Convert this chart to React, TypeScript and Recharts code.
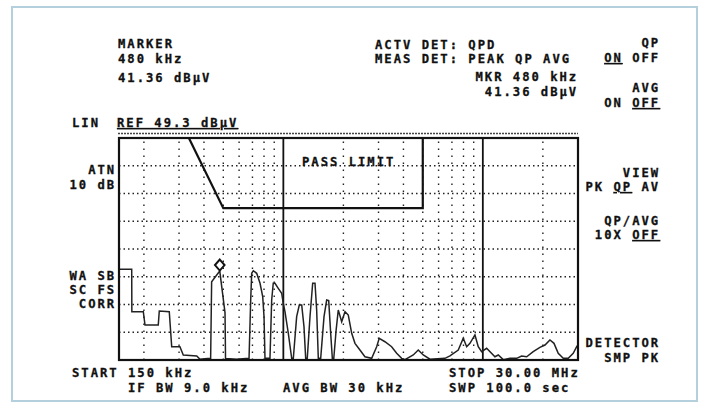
import { LineChart, Line, XAxis, YAxis, ReferenceLine, ReferenceDot } from "recharts";

// sweep 150 kHz .. 30 MHz, linear amplitude, REF 49.3 dBµV = 291.7 µV
const START_KHZ = 150;
const STOP_KHZ = 30000;
const REF_UV = 291.7;
const Y_DIVS = 8;

const MINOR_KHZ = [200, 300, 400, 500, 600, 700, 800, 900, 2000, 3000, 4000, 5000, 6000, 7000, 8000, 9000, 20000];
const MAJOR_KHZ = [1000, 10000];

const TRACE_KHZ = [
  150, 173.7, 174, 198.6, 202.5, 236, 238.8, 268, 275.6, 303, 315, 368, 382, 429, 432, 437, 480, 510, 513, 583,
  673, 686, 694, 707, 735, 764, 788, 800, 809, 857, 874, 890, 908, 943, 981, 999, 1019, 1059, 1101,
  1122, 1166, 1202, 1236, 1269, 1294, 1318, 1360, 1403, 1441, 1469, 1497, 1539, 1599, 1649, 1688, 1727, 1760,
  1790, 1840, 1885, 1961, 2037, 2116, 2201, 2286, 2421, 2565, 2772, 2936, 3025, 3231, 3490, 3699, 3918, 4071,
  4481, 4746, 5027, 5433, 6460, 6843, 7531, 7979, 8299, 8619, 9131, 9486, 9865, 10450, 11500, 11950, 12660,
  13680, 14780, 15650, 16590, 17890, 19330, 20490, 21700, 22740, 23880, 25300, 26810, 28390, 29540, 30000,
];
const TRACE_UV = [
  119.2, 119.2, 63.5, 63.5, 46, 46, 64.4, 63.5, 17.5, 17.5, 6.6, 5.3, 1, 2.2, 2, 102.9, 116.9, 62, 2, 1,
  2.2, 78.8, 113.9, 117.3, 113.9, 100.8, 83.2, 56.9, 2.2, 2.2, 78.8, 100.8, 100.8, 94.2, 87.6, 74.5, 63.5, 35, 2.2,
  2.2, 56.9, 72.3, 72.3, 43.8, 2.2, 2.2, 56.9, 100.8, 100.8, 65.7, 2.2, 2.2, 56.9, 78.8, 78, 35, 2.2,
  2.2, 40, 65.7, 50.3, 63.5, 59.1, 35.1, 21.9, 13.1, 4.3, 2.2, 17.5, 28.5, 24, 17.5, 8.8, 2.2, 0.5,
  6.6, 13.1, 6.6, 1, 2.2, 5.3, 13.1, 28.5, 17.5, 21.9, 32.9, 17.5, 10.9, 15.4, 4.3, 6.6, 0.5,
  2.2, 2.2, 5.3, 4.3, 10.9, 16.7, 19.7, 26.3, 21.9, 8.8, 2.2, 2.2, 8.8, 17.5, 19.7,
];

const LIMIT_KHZ = [336, 500, 5000, 5000];
const LIMIT_UV = [291.7, 199.5, 199.5, 291.7];

const MARKER_KHZ = 480;
const MARKER_UV = 116.9;

const trace = TRACE_KHZ.map((f, i) => ({ f, v: TRACE_UV[i] }));
const limit = LIMIT_KHZ.map((f, i) => ({ f, v: LIMIT_UV[i] }));
const yGrid = Array.from({ length: Y_DIVS - 1 }, (_, i) => (REF_UV * (i + 1)) / Y_DIVS);

const FONT = "'DejaVu Sans Mono', monospace";
const INK = "#111";

function T({ x, y, end, children }: { x: number; y: number; end?: boolean; children: any }) {
  return (
    <text
      x={end ? x + 2.2 : x}
      y={y}
      textAnchor={end ? "end" : "start"}
      fontFamily={FONT}
      fontWeight="bold"
      fontSize={12.2}
      letterSpacing={2}
      fill={INK}
      stroke={INK}
      strokeWidth={0.3}
    >
      {children}
    </text>
  );
}

function U({ children }: { children: any }) {
  return <tspan textDecoration="underline">{children}</tspan>;
}

const Diamond = (p: any) => {
  const cx = p.cx, cy = p.cy - 6;
  return (
    <path
      d={`M${cx},${cy - 5.5} L${cx + 4.8},${cy} L${cx},${cy + 5.5} L${cx - 4.8},${cy} Z`}
      fill="#fff"
      stroke={INK}
      strokeWidth={2}
    />
  );
};

export default function App() {
  return (
    <div style={{ position: "absolute", left: 0, top: 0, width: 709, height: 409, background: "#fff" }}>
      <LineChart width={709} height={409} margin={{ top: 138, left: 119, right: 131, bottom: 49 }}>
        <XAxis type="number" dataKey="f" scale="log" domain={[START_KHZ, STOP_KHZ]} allowDataOverflow hide />
        <YAxis type="number" domain={[0, REF_UV]} allowDataOverflow hide />
        {yGrid.map((v) => (
          <ReferenceLine key={"h" + v} y={v} stroke="#222" strokeWidth={1.3} strokeDasharray="1.5 3" />
        ))}
        {MINOR_KHZ.map((f) => (
          <ReferenceLine key={"v" + f} x={f} stroke="#222" strokeWidth={1.4} strokeDasharray="1.5 5.5" />
        ))}
        {MAJOR_KHZ.map((f) => (
          <ReferenceLine key={"m" + f} x={f} stroke={INK} strokeWidth={1.8} />
        ))}
        <Line data={limit} dataKey="v" type="linear" stroke={INK} strokeWidth={2.2} dot={false} isAnimationActive={false} />
        <Line data={trace} dataKey="v" type="linear" stroke="#222" strokeWidth={1.5} dot={false} isAnimationActive={false} />
        <ReferenceDot x={MARKER_KHZ} y={MARKER_UV} shape={Diamond} />
      </LineChart>

      <svg width={709} height={409} style={{ position: "absolute", left: 0, top: 0, pointerEvents: "none" }}>
        <rect x={12} y={7} width={685} height={394} fill="none" stroke="#b3d0dc" strokeWidth={2} />
        <rect x={119} y={138} width={459} height={222} fill="none" stroke={INK} strokeWidth={2.2} />
        <line x1={118} y1={133.5} x2={578} y2={133.5} stroke="#444" strokeWidth={1.6} strokeDasharray="2 1" />

        <T x={118} y={48}>MARKER</T>
        <T x={118} y={63}>480 kHz</T>
        <T x={118} y={82}>41.36 dBµV</T>

        <T x={375} y={49}>ACTV DET: QPD</T>
        <T x={375} y={63}>MEAS DET: PEAK QP AVG</T>
        <T x={576} y={80.5} end>MKR 480 kHz</T>
        <T x={576} y={95.5} end>41.36 dBµV</T>

        <T x={658} y={47} end>QP</T>
        <T x={658} y={62} end><U>ON</U> OFF</T>
        <T x={658} y={92} end>AVG</T>
        <T x={658} y={107} end>ON <U>OFF</U></T>
        <T x={658} y={176.5} end>VIEW</T>
        <T x={658} y={191} end>PK <U>QP</U> AV</T>
        <T x={658} y={224.5} end>QP/AVG</T>
        <T x={658} y={239} end>10X  <U>OFF</U></T>
        <T x={658} y={347} end>DETECTOR</T>
        <T x={658} y={362} end>SMP PK</T>

        <T x={72} y={127}>LIN</T>
        <T x={117} y={127}><U>REF 49.3 dBµV</U></T>
        <T x={114} y={174} end>ATN</T>
        <T x={114} y={189} end>10 dB</T>
        <T x={114} y={280} end>WA SB</T>
        <T x={114} y={294} end>SC FS</T>
        <T x={114} y={308} end>CORR</T>

        <T x={302} y={166}>PASS LIMIT</T>

        <T x={72} y={377}>START 150 kHz</T>
        <T x={128} y={392}>IF BW 9.0 kHz</T>
        <T x={283} y={392}>AVG BW 30 kHz</T>
        <T x={449} y={377}>STOP 30.00 MHz</T>
        <T x={449} y={392}>SWP 100.0 sec</T>
      </svg>
    </div>
  );
}
